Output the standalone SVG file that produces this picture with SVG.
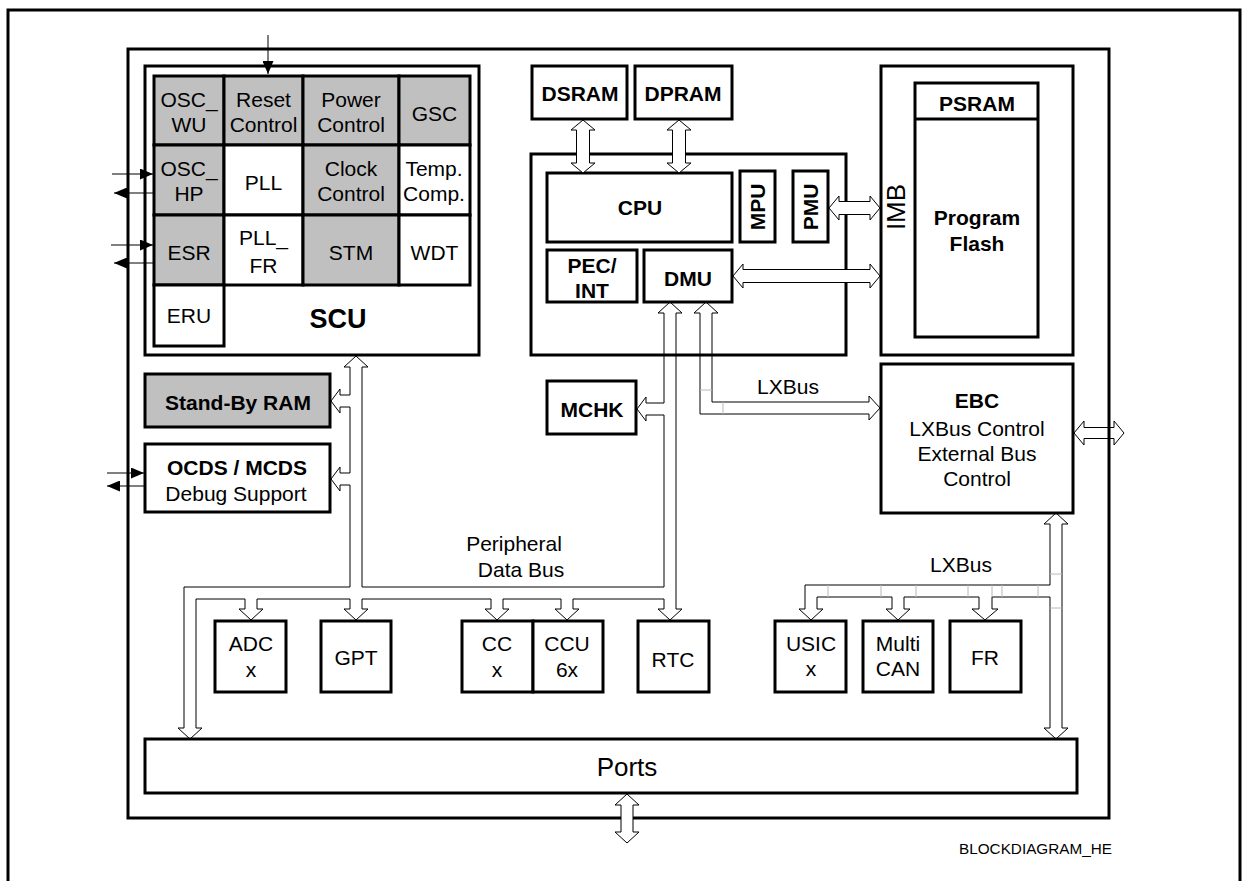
<svg xmlns="http://www.w3.org/2000/svg" width="1242" height="881" viewBox="0 0 1242 881">
<style>
.box{fill:#fff;stroke:#000;stroke-width:3}
.gray{fill:#c0c0c0}
.frame{fill:none;stroke:#000;stroke-width:3}
.t{font-family:"Liberation Sans",Arial,sans-serif;font-size:21px;text-anchor:middle;fill:#000}
.b{font-weight:bold}
.bus{fill:none;stroke:#000;stroke-width:1}
.dbl{fill:#fff;stroke:#000;stroke-width:1}
.faint{fill:none;stroke:#b8b8b8;stroke-width:1}
.sig{fill:none;stroke:#000;stroke-width:1;marker-end:url(#ah)}
</style>
<defs>
<marker id="ah" markerUnits="userSpaceOnUse" markerWidth="13" markerHeight="11" refX="13" refY="5.5" orient="auto">
<path d="M0,0 L13,5.5 L0,11 z" fill="#000"/>
</marker>
</defs>
<rect width="1242" height="881" fill="#fff"/>
<!-- page border -->
<path class="frame" d="M8,881 L8,10 L1240,10 L1240,881"/>

<g id="connectors-back">
<polygon class="dbl" points="1074,433 1084,421 1084,427.5 1114,427.5 1114,421 1124,433 1114,445 1114,438.5 1084,438.5 1084,445"/>
</g>

<!-- chip frame -->
<rect id="chip" class="frame" x="128" y="49" width="981" height="769" stroke-width="2.7"/>

<g id="scu">
<rect class="box" x="145" y="66" width="334" height="289"/>
<rect class="box gray" x="154" y="76" width="70" height="69"/>
<rect class="box gray" x="224" y="76" width="79" height="69"/>
<rect class="box gray" x="303" y="76" width="96" height="69"/>
<rect class="box gray" x="399" y="76" width="71" height="69"/>
<rect class="box gray" x="154" y="145" width="70" height="70"/>
<rect class="box" x="224" y="145" width="79" height="70"/>
<rect class="box gray" x="303" y="145" width="96" height="70"/>
<rect class="box" x="399" y="145" width="71" height="70"/>
<rect class="box gray" x="154" y="215" width="70" height="70"/>
<rect class="box" x="224" y="215" width="79" height="70"/>
<rect class="box gray" x="303" y="215" width="96" height="70"/>
<rect class="box" x="399" y="215" width="71" height="70"/>
<rect class="box" x="154" y="285" width="70" height="61"/>
<text class="t" x="189" y="106.5">OSC_</text><text class="t" x="189" y="131.5">WU</text>
<text class="t" x="263.5" y="106.5">Reset</text><text class="t" x="263.5" y="131.5">Control</text>
<text class="t" x="351" y="106.5">Power</text><text class="t" x="351" y="131.5">Control</text>
<text class="t" x="434.5" y="120.5">GSC</text>
<text class="t" x="189" y="175.5">OSC_</text><text class="t" x="189" y="200.5">HP</text>
<text class="t" x="263.5" y="189.5">PLL</text>
<text class="t" x="351" y="175.5">Clock</text><text class="t" x="351" y="200.5">Control</text>
<text class="t" x="434" y="175.5">Temp.</text><text class="t" x="434" y="200.5">Comp.</text>
<text class="t" x="189" y="259.5">ESR</text>
<text class="t" x="263.5" y="244.5">PLL_</text><text class="t" x="263.5" y="272.5">FR</text>
<text class="t" x="351" y="259.5">STM</text>
<text class="t" x="434.5" y="259.5">WDT</text>
<text class="t" x="189" y="322.5">ERU</text>
<text class="t b" x="338" y="327.5" style="font-size:27px">SCU</text>
</g>

<g id="standby-ram">
<rect class="box gray" x="145" y="374" width="185" height="53"/>
<text class="t b" x="238" y="409.5">Stand-By RAM</text>
</g>
<g id="ocds">
<rect class="box" x="145" y="444" width="185" height="68"/>
<text class="t b" x="237" y="474.5">OCDS / MCDS</text>
<text class="t" x="236" y="500.5">Debug Support</text>
</g>

<g id="dsram"><rect class="box" x="532" y="66" width="95" height="53"/><text class="t b" x="580" y="100.5">DSRAM</text></g>
<g id="dpram"><rect class="box" x="635" y="66" width="97" height="53"/><text class="t b" x="683" y="100.5">DPRAM</text></g>
<g id="cpu-subsystem"><rect class="box" x="531" y="154" width="315" height="201"/></g>
<g id="cpu"><rect class="box" x="547" y="173" width="185" height="69"/><text class="t b" x="640" y="214.5">CPU</text></g>
<g id="mpu"><rect class="box" x="740" y="171" width="35" height="71"/><text class="t b" transform="translate(765,207) rotate(-90)">MPU</text></g>
<g id="pmu"><rect class="box" x="793" y="171" width="35" height="71"/><text class="t b" transform="translate(818,207) rotate(-90)">PMU</text></g>
<g id="pec-int"><rect class="box" x="547" y="250" width="90" height="52"/><text class="t b" x="592" y="272.5">PEC/</text><text class="t b" x="592" y="297.5">INT</text></g>
<g id="dmu"><rect class="box" x="644" y="250" width="88" height="52"/><text class="t b" x="688" y="285.5">DMU</text></g>
<g id="mchk"><rect class="box" x="547" y="381" width="89" height="53"/><text class="t b" x="592" y="416.5">MCHK</text></g>

<g id="flash">
<rect class="box" x="881" y="66" width="192" height="289"/>
<rect class="box" x="915" y="83" width="123" height="254"/>
<line x1="915" y1="119" x2="1038" y2="119" stroke="#000" stroke-width="3"/>
<text class="t b" x="977" y="110.5">PSRAM</text>
<text class="t b" x="977" y="224.5">Program</text>
<text class="t b" x="977" y="250.5">Flash</text>
<text class="t" transform="translate(905,207) rotate(-90)" style="font-size:26px">IMB</text>
</g>

<g id="ebc">
<rect class="box" x="881" y="364" width="192" height="149"/>
<text class="t b" x="977" y="407.5">EBC</text>
<text class="t" x="977" y="435.5">LXBus Control</text>
<text class="t" x="977" y="460.5">External Bus</text>
<text class="t" x="977" y="485.5">Control</text>
</g>

<g id="adc"><rect class="box" x="215" y="621" width="71" height="71"/><text class="t" x="251" y="650.5">ADC</text><text class="t" x="251" y="676.5">x</text></g>
<g id="gpt"><rect class="box" x="321" y="621" width="70" height="71"/><text class="t" x="356" y="664.5">GPT</text></g>
<g id="ccx"><rect class="box" x="462" y="621" width="71" height="71"/><text class="t" x="497" y="650.5">CC</text><text class="t" x="497" y="676.5">x</text></g>
<g id="ccu6x"><rect class="box" x="533" y="621" width="70" height="71"/><text class="t" x="567" y="650.5">CCU</text><text class="t" x="567" y="676.5">6x</text></g>
<g id="rtc"><rect class="box" x="638" y="621" width="71" height="71"/><text class="t" x="673" y="666.5">RTC</text></g>
<g id="usic"><rect class="box" x="775" y="621" width="71" height="71"/><text class="t" x="811" y="650.5">USIC</text><text class="t" x="811" y="675.5">x</text></g>
<g id="multican"><rect class="box" x="863" y="621" width="70" height="71"/><text class="t" x="898" y="650.5">Multi</text><text class="t" x="898" y="675.5">CAN</text></g>
<g id="fr"><rect class="box" x="950" y="621" width="71" height="71"/><text class="t" x="985" y="664.5">FR</text></g>

<g id="ports">
<rect class="box" x="145" y="739" width="932" height="54"/>
<text class="t" x="627" y="776" style="font-size:26px">Ports</text>
</g>

<g id="connectors">
<!-- external signal arrows -->
<line class="sig" x1="268" y1="35" x2="268" y2="74"/>
<line class="sig" x1="112" y1="174" x2="153" y2="174"/>
<line class="sig" x1="153" y1="193" x2="114" y2="193"/>
<line class="sig" x1="111" y1="245" x2="153" y2="245"/>
<line class="sig" x1="153" y1="263" x2="114" y2="263"/>
<line class="sig" x1="107" y1="473" x2="144" y2="473"/>
<line class="sig" x1="145" y1="486" x2="107" y2="486"/>
<!-- memory / IMB double arrows -->
<polygon class="dbl" points="583,120 595,130 589.5,130 589.5,163 595,163 583,173 571,163 576.5,163 576.5,130 571,130"/>
<polygon class="dbl" points="679,120 691,130 685.5,130 685.5,163 691,163 679,173 667,163 672.5,163 672.5,130 667,130"/>
<polygon class="dbl" points="829,208 839,196 839,201.5 870,201.5 870,196 880,208 870,220 870,214.5 839,214.5 839,220"/>
<polygon class="dbl" points="733,276 743,264 743,269.5 870,269.5 870,264 880,276 870,288 870,282.5 743,282.5 743,288"/>
<polygon class="dbl" points="627,794 639,805 633,805 633,832 639,832 627,843 615,832 621,832 621,805 615,805"/>
<!-- peripheral data bus -->
<path class="bus" d="M344,367 L356,356 L368,367 L362,367 L362,587 L664,587 L664,415 L646,415 L646,421 L637,409 L646,397 L646,403 L664,403 L664,313 L658,313 L670,302 L682,313 L676,313 L676,609 L682,609 L670,620 L658,609 L664,609 L664,599 L573,599 L573,609 L579,609 L567,620 L555,609 L561,609 L561,599 L503,599 L503,609 L509,609 L497,620 L485,609 L491,609 L491,599 L362,599 L362,609 L368,609 L356,620 L344,609 L350,609 L350,599 L257,599 L257,609 L263,609 L251,620 L239,609 L245,609 L245,599 L196,599 L196,728 L202,728 L190,739 L178,728 L184,728 L184,587 L350,587 L350,485 L340,485 L340,491 L331,479 L340,467 L340,473 L350,473 L350,407 L340,407 L340,413 L331,401 L340,389 L340,395 L350,395 L350,367 Z"/>
<!-- LXBus from DMU to EBC -->
<path class="bus" d="M694,313 L706,302 L718,313 L712,313 L712,402 L869,402 L869,396 L880,408 L869,420 L869,414 L700,414 L700,313 Z"/>
<path class="faint" d="M700,390 L712,390 M723,402 L723,414"/>
<!-- LXBus from EBC to peripherals and ports -->
<path class="bus" d="M1044,524 L1056,513 L1068,524 L1062,524 L1062,728 L1068,728 L1056,739 L1044,728 L1050,728 L1050,597 L992,597 L992,609 L998,609 L985,620 L972,609 L979,609 L979,597 L904,597 L904,609 L910,609 L898,620 L886,609 L892,609 L892,597 L817,597 L817,609 L823,609 L811,620 L799,609 L805,609 L805,585 L1050,585 L1050,524 Z"/>
<path class="faint" d="M828,585 L828,597 M881,585 L881,597 M916,585 L916,597 M968,585 L968,597 M992,585 L992,597 M1002,585 L1002,597 M1038,585 L1038,597 M1050,574 L1062,574 M1050,608 L1062,608"/>
</g>

<g id="labels">
<text class="t" x="514" y="550.5">Peripheral</text>
<text class="t" x="521" y="576.5">Data Bus</text>
<text class="t" x="788" y="393.5">LXBus</text>
<text class="t" x="961" y="571.5">LXBus</text>
<text class="t" x="1035.5" y="853.5" style="font-size:15px" textLength="153" lengthAdjust="spacingAndGlyphs">BLOCKDIAGRAM_HE</text>
</g>
</svg>
